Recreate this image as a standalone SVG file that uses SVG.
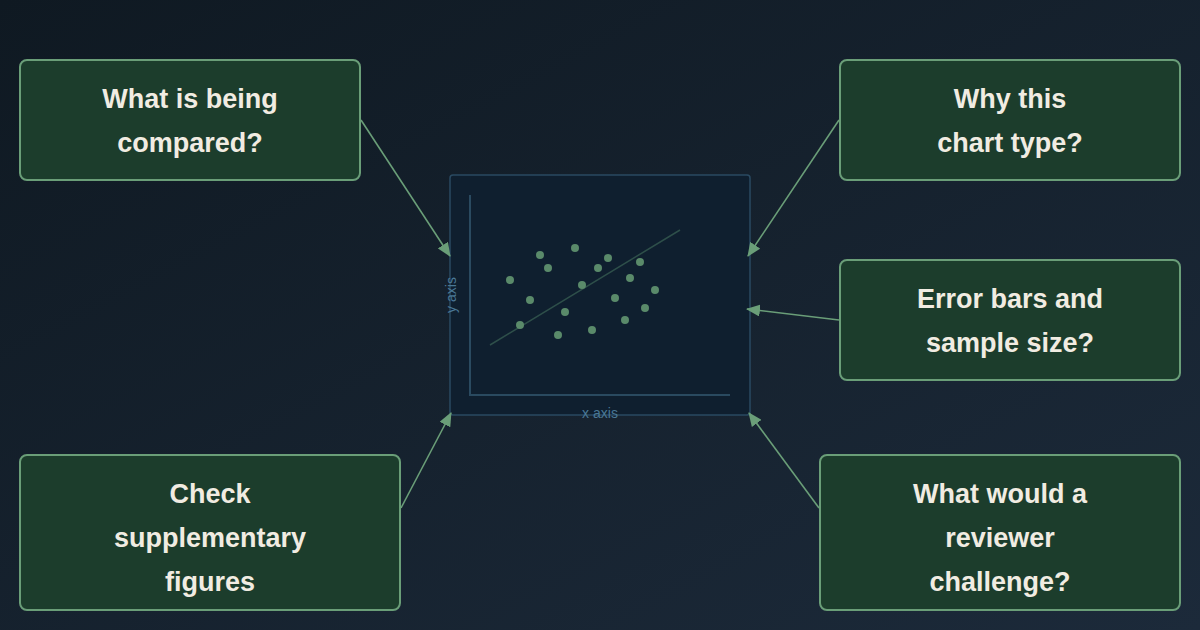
<svg xmlns="http://www.w3.org/2000/svg" width="1200" height="630" viewBox="0 0 1200 630">
<defs>
<linearGradient id="bg" x1="0" y1="0" x2="1" y2="1">
<stop offset="0" stop-color="#0f1922"/>
<stop offset="1" stop-color="#1c2a3a"/>
</linearGradient>
<marker id="arr" markerWidth="14" markerHeight="12" refX="13" refY="6" orient="auto" markerUnits="userSpaceOnUse">
<path d="M0,0 L14,6 L0,12 Z" fill="#6a9e78"/>
</marker>
<style>
.node rect{fill:#1c3d2c;stroke:#6a9e78;stroke-width:2}
.node text{font-family:"Liberation Sans",Arial,sans-serif;font-weight:bold;font-size:27px;fill:#f1ece2;text-anchor:middle}
.conn line{stroke:#6a9e78;stroke-width:1.6;marker-end:url(#arr)}
.dot{fill:#5a8a6a}
.ax{stroke:#2a4a60;stroke-width:2;fill:none}
.axl{font-family:"Liberation Sans",Arial,sans-serif;font-size:14px;fill:#4a7896}
</style>
</defs>
<rect width="1200" height="630" fill="url(#bg)"/>
<g id="chart">
<rect x="450" y="175" width="300" height="240" rx="3" fill="#0f1f2f" stroke="#2a4a62" stroke-width="1.5"/>
<path class="ax" d="M470,195 V395 H730"/>
<line x1="490" y1="345" x2="680" y2="230" stroke="#2e4f4a" stroke-width="1.5"/>
<g>
<circle class="dot" cx="510" cy="280" r="4"/>
<circle class="dot" cx="540" cy="255" r="4"/>
<circle class="dot" cx="548" cy="268" r="4"/>
<circle class="dot" cx="575" cy="248" r="4"/>
<circle class="dot" cx="530" cy="300" r="4"/>
<circle class="dot" cx="520" cy="325" r="4"/>
<circle class="dot" cx="565" cy="312" r="4"/>
<circle class="dot" cx="558" cy="335" r="4"/>
<circle class="dot" cx="582" cy="285" r="4"/>
<circle class="dot" cx="598" cy="268" r="4"/>
<circle class="dot" cx="608" cy="258" r="4"/>
<circle class="dot" cx="592" cy="330" r="4"/>
<circle class="dot" cx="615" cy="298" r="4"/>
<circle class="dot" cx="630" cy="278" r="4"/>
<circle class="dot" cx="640" cy="262" r="4"/>
<circle class="dot" cx="625" cy="320" r="4"/>
<circle class="dot" cx="645" cy="308" r="4"/>
<circle class="dot" cx="655" cy="290" r="4"/>
</g>
<text class="axl" x="600" y="418" text-anchor="middle">x axis</text>
<text class="axl" x="0" y="0" text-anchor="middle" transform="translate(456,295) rotate(-90)">y axis</text>
</g>
<g id="connectors" class="conn">
<line x1="361" y1="120" x2="450" y2="256"/>
<line x1="839" y1="120" x2="748" y2="256"/>
<line x1="839" y1="320" x2="747" y2="309"/>
<line x1="401" y1="508" x2="451" y2="413"/>
<line x1="819" y1="508" x2="749" y2="413"/>
</g>
<g id="n1" class="node">
<rect x="20" y="60" width="340" height="120" rx="7"/>
<text x="190" y="108">What is being</text>
<text x="190" y="152">compared?</text>
</g>
<g id="n2" class="node">
<rect x="840" y="60" width="340" height="120" rx="7"/>
<text x="1010" y="108">Why this</text>
<text x="1010" y="152">chart type?</text>
</g>
<g id="n3" class="node">
<rect x="840" y="260" width="340" height="120" rx="7"/>
<text x="1010" y="308">Error bars and</text>
<text x="1010" y="352">sample size?</text>
</g>
<g id="n4" class="node">
<rect x="20" y="455" width="380" height="155" rx="7"/>
<text x="210" y="503">Check</text>
<text x="210" y="547">supplementary</text>
<text x="210" y="591">figures</text>
</g>
<g id="n5" class="node">
<rect x="820" y="455" width="360" height="155" rx="7"/>
<text x="1000" y="503">What would a</text>
<text x="1000" y="547">reviewer</text>
<text x="1000" y="591">challenge?</text>
</g>
</svg>
